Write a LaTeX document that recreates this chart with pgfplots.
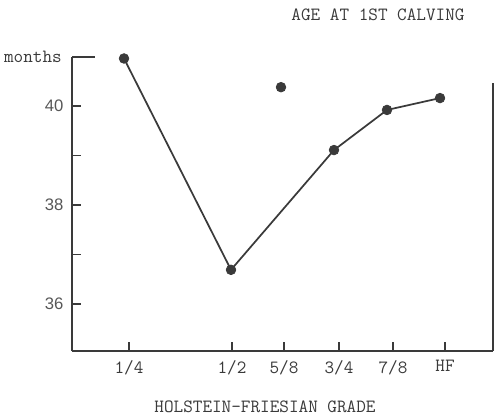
\documentclass[border=0pt]{standalone}
\usepackage{fontspec}
\usepackage{pgfplots}
\pgfplotsset{compat=1.18}
\newfontfamily\sans{Liberation Sans}
\definecolor{ink}{HTML}{3A3A3A}
\begin{document}
\begin{tikzpicture}[x=0.75pt,y=0.75pt]
\path[use as bounding box] (0,0) rectangle (500,415);
\begin{axis}[
  at={(54pt,48pt)}, anchor=south west,
  scale only axis, width=315.75pt, height=220.5pt,
  xmin=72, xmax=493, ymin=35.05, ymax=40.99,
  axis x line=bottom, axis y line=left,
  axis line style={-, ink, line width=1.3pt},
  tick align=inside, major tick length=6.5pt,
  tick style={ink, line width=1.3pt},
  xtick={129,232,284,339,393,445},
  xticklabels={1/4,1/2,5/8,3/4,7/8,HF},
  ytick={36,37,38,39,40},
  yticklabels={36,,38,,40},
  xticklabel style={font=\ttfamily\fontsize{14}{14}\selectfont, text=ink, yshift=-3.5pt},
  yticklabel style={font=\sans\fontsize{12.5}{12}\selectfont, text=ink!85, xshift=-3pt},
  clip=false,
]
\addplot[ink, line width=1.3pt, mark=*, mark size=3.6pt, mark options={fill=ink, draw=ink, line width=0.6pt}]
  coordinates {(124,40.96) (231,36.69) (334,39.11) (387,39.92) (440,40.16)};
\addplot[only marks, mark=*, mark size=3.6pt, mark options={fill=ink, draw=ink, line width=0.6pt}]
  coordinates {(281,40.38)};
\draw[ink, line width=1.3pt] (axis cs:72,40.99) -- (axis cs:95,40.99);
\draw[ink, line width=1.3pt] (axis cs:493,40.46) -- (axis cs:493,35.05);
\end{axis}
\node[anchor=east, text=ink, font=\ttfamily\fontsize{14}{14}\selectfont, inner sep=0pt] at (62,358) {months};
\node[text=ink, font=\ttfamily\fontsize{14}{14}\selectfont, inner sep=0pt] at (378,400) {AGE AT 1ST CALVING};
\node[text=ink, font=\ttfamily\fontsize{14}{14}\selectfont, inner sep=0pt] at (265,8) {HOLSTEIN-FRIESIAN GRADE};
\end{tikzpicture}
\end{document}
